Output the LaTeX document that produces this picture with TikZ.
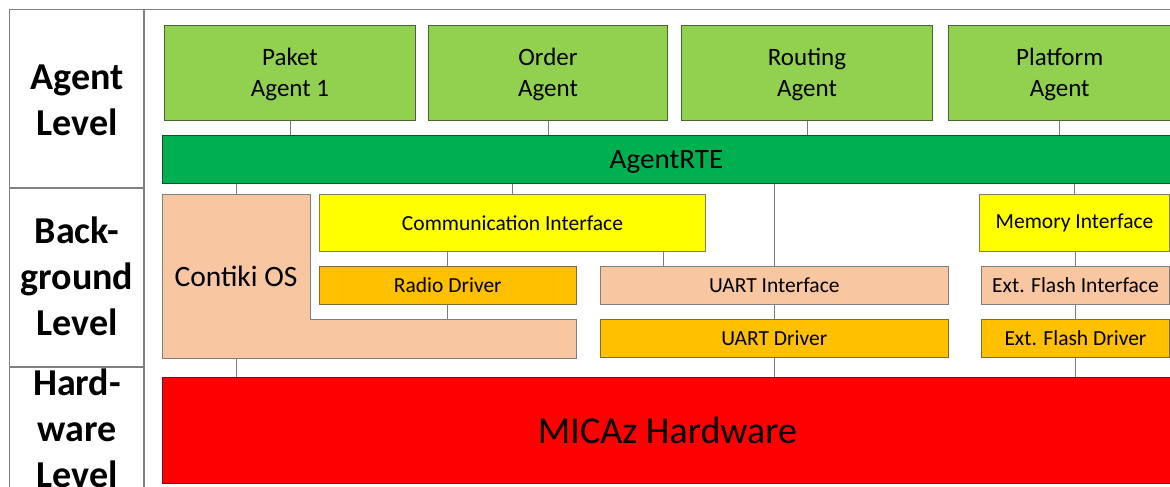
\documentclass[tikz,border=0pt]{standalone}
\usepackage{fontspec}
\setmainfont{Carlito}
\usetikzlibrary{calc}
\definecolor{agentfill}{HTML}{92D050}
\definecolor{agentdraw}{HTML}{4A6332}
\definecolor{rtefill}{HTML}{00B050}
\definecolor{rtedraw}{HTML}{1F4A2C}
\definecolor{yelfill}{HTML}{FFFF00}
\definecolor{yeldraw}{HTML}{7F7F5F}
\definecolor{orfill}{HTML}{FFC000}
\definecolor{ordraw}{HTML}{7F6A3A}
\definecolor{peachfill}{HTML}{F8C6A0}
\definecolor{peachdraw}{HTML}{7F7F7F}
\definecolor{hwfill}{HTML}{FF0000}
\definecolor{hwdraw}{HTML}{5A2020}
\definecolor{conn}{HTML}{7A7A7A}
\definecolor{tblline}{HTML}{808080}
\newcommand{\twolines}[2]{\begin{tabular}[t]{@{}c@{}}#1\\#2\end{tabular}}
\newcommand{\threelines}[3]{\begin{tabular}[t]{@{}c@{}}#1\\#2\\#3\end{tabular}}
\begin{document}
\begin{tikzpicture}[x=1pt,y=-1pt,
  box/.style={rectangle, anchor=north west, inner sep=0pt, line width=1pt, align=center},
  agent/.style={box, fill=agentfill, draw=agentdraw, font=\fontsize{25}{31}\selectfont, text height=0pt, text depth=14pt},
  rte/.style={box, fill=rtefill, draw=rtedraw, font=\fontsize{28}{34}\selectfont, text height=17.4pt, text depth=0pt},
  iface/.style={box, fill=yelfill, draw=yeldraw, font=\fontsize{21.5}{26}\selectfont},
  driver/.style={box, fill=orfill, draw=ordraw, font=\fontsize{21.5}{26}\selectfont},
  peach/.style={box, fill=peachfill, draw=peachdraw, font=\fontsize{21.5}{26}\selectfont},
  hw/.style={box, fill=hwfill, draw=hwdraw, font=\fontsize{38}{46}\selectfont},
  conline/.style={draw=conn, line width=1pt},
  tbl/.style={draw=tblline, line width=1.3pt},
  lvl/.style={anchor=base, inner sep=0pt, font=\fontsize{38}{46}\selectfont\bfseries}
]
\useasboundingbox (0,0) rectangle (1170,487);
\clip (0,0) rectangle (1170,487);

% table
\draw[tbl] (9.5,490) -- (9.5,9.5) -- (1172,9.5);
\draw[tbl] (144,9.5) -- (144,490);
\draw[tbl] (9.5,188) -- (144,188);
\draw[tbl] (9.5,367) -- (144,367);

\node[lvl] (lagent) at (77,89.5) {\twolines{Agent}{Level}};
\node[lvl] (lback) at (77,243) {\threelines{Back-}{ground}{Level}};
\node[lvl] (lhw) at (77,395.5) {\threelines{Hard-}{ware}{Level}};

% agents
\node[agent, minimum width=251pt, minimum height=95pt] (paket) at (164,25) {\twolines{Paket}{Agent 1}};
\node[agent, minimum width=238.4pt, minimum height=95pt] (order) at (428.3,25) {\twolines{Order}{Agent}};
\node[agent, minimum width=251pt, minimum height=95pt] (routing) at (681,25) {\twolines{Routing}{Agent}};
\node[agent, minimum width=223pt, minimum height=95pt] (platform) at (947.7,25) {\twolines{Platform}{Agent}};

\node[rte, minimum width=1008pt, minimum height=48pt] (agentrte) at (162,135) {\scalebox{1.04}[1]{AgentRTE}};

% background level
\node[box, minimum width=266.7pt, minimum height=38.7pt] (contikiext) at (309,319) {};
\node[box, minimum width=147pt, minimum height=163.7pt] (contiki) at (162,194) {};
\fill[peachfill] (contiki.north west) -- (contiki.north east) -- (contiki.east |- contikiext.north)
  -- (contikiext.north east) -- (contikiext.south east) -- (contiki.south west) -- cycle;
\draw[peachdraw, line width=1pt] (contiki.north west) -- (contiki.north east) -- (contiki.east |- contikiext.north)
  -- (contikiext.north east) -- (contikiext.south east) -- (contiki.south west) -- cycle;
\node[font=\fontsize{29.5}{34}\selectfont, inner sep=0pt] (contikilabel) at (contiki.center) {Contiki OS};

\node[iface, minimum width=386pt, minimum height=57pt] (comm) at (319,194) {Communication Interface};
\node[driver, minimum width=256.7pt, minimum height=38pt] (radio) at (319,266) {Radio Driver};
\node[peach, minimum width=348.4pt, minimum height=38pt] (uartif) at (599.6,266) {UART Interface};
\node[driver, minimum width=348.4pt, minimum height=38pt] (uartdrv) at (599.6,319) {UART Driver};
\node[iface, minimum width=190pt, minimum height=57pt] (memory) at (979,194) {Memory Interface};
\node[peach, minimum width=188pt, minimum height=38pt] (flashif) at (981,266) {Ext. Flash Interface};
\node[driver, minimum width=188pt, minimum height=38pt] (flashdrv) at (981,319) {Ext. Flash Driver};

% hardware
\node[hw, minimum width=1010pt, minimum height=106pt] (micaz) at (162,377) {MICAz Hardware};

% connectors
\draw[conline] (paket.south) -- (paket.south |- agentrte.north);
\draw[conline] (order.south) -- (order.south |- agentrte.north);
\draw[conline] (routing.south) -- (routing.south |- agentrte.north);
\draw[conline] (platform.south) -- (platform.south |- agentrte.north);

\draw[conline] (contiki.north |- agentrte.south) -- (contiki.north);
\draw[conline] (comm.north |- agentrte.south) -- (comm.north);
\draw[conline] (uartif.north |- agentrte.south) -- (uartif.north);
\draw[conline] (memory.north |- agentrte.south) -- (memory.north);

\coordinate (commout) at ($(comm.south west)!0.889!(comm.south east)$);
\draw[conline] (commout) -- (commout |- uartif.north);
\draw[conline] (radio.north |- comm.south) -- (radio.north);
\draw[conline] (radio.south) -- (radio.south |- contikiext.north);
\draw[conline] (uartif.south) -- (uartdrv.north);
\draw[conline] (uartdrv.south) -- (uartdrv.south |- micaz.north);
\draw[conline] (memory.south -| flashif.north) -- (flashif.north);
\draw[conline] (flashif.south) -- (flashdrv.north);
\draw[conline] (flashdrv.south) -- (flashdrv.south |- micaz.north);
\draw[conline] (contiki.south) -- (contiki.south |- micaz.north);
\end{tikzpicture}
\end{document}
